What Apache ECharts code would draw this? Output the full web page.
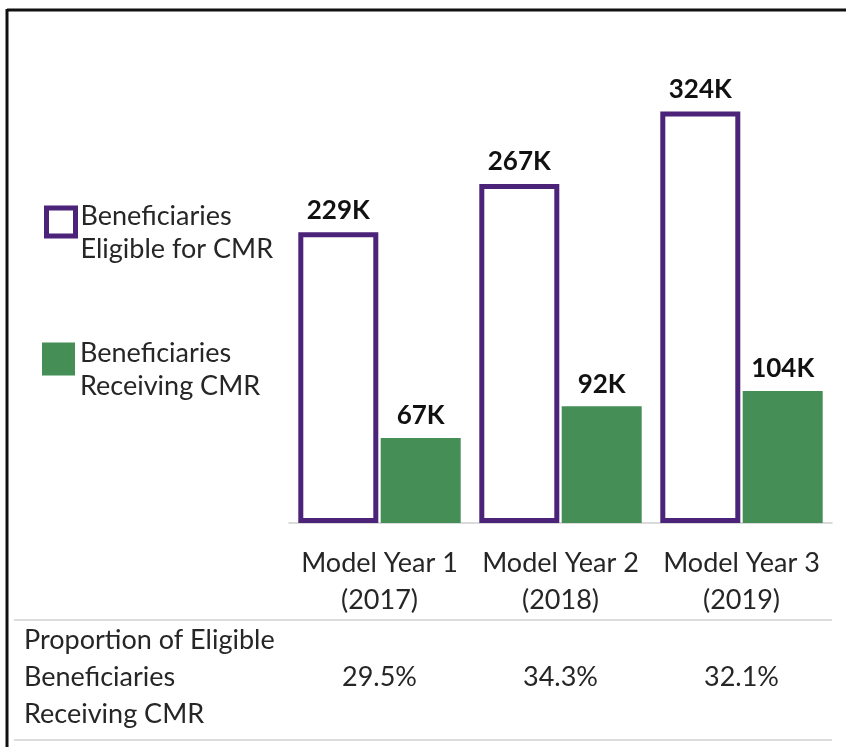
<!DOCTYPE html>
<html>
<head>
<meta charset="utf-8">
<script src="https://cdn.jsdelivr.net/npm/echarts@6/dist/echarts.min.js"></script>
<style>
  html, body { margin: 0; padding: 0; background: #fff; }
  #chart { width: 846px; height: 747px; }
</style>
</head>
<body>
<div id="chart"></div>
<script>
// CMR reach by model year
const categories = ['Model Year 1\n(2017)', 'Model Year 2\n(2018)', 'Model Year 3\n(2019)'];
const eligible = [229, 267, 324];      // thousands of beneficiaries
const receiving = [67, 92, 104];      // thousands of beneficiaries
const proportions = ['29.5%', '34.3%', '32.1%'];
const seriesNames = ['Beneficiaries\nEligible for CMR', 'Beneficiaries\nReceiving CMR'];
const rowLabel = 'Proportion of Eligible\nBeneficiaries\nReceiving CMR';

const PURPLE = '#4b2379';
const GREEN = '#458f56';
const TEXT = '#262626';
const FONT = 'Lato';
const TEXT_SIZE = 27;

const chart = echarts.init(document.getElementById('chart'));

// Legend labels: a short spacer line on top pushes the two text lines down
// so the icon sits level with the first line.
const legendText = {
  fontFamily: FONT,
  fontSize: TEXT_SIZE,
  color: TEXT,
  rich: {
    sp: { fontSize: 2, lineHeight: 21 },
    t: { fontFamily: FONT, fontSize: TEXT_SIZE, lineHeight: 33, color: TEXT }
  }
};
const legendFormatter = name => '{sp| }\n' + name.split('\n').map(s => '{t|' + s + '}').join('\n');

chart.setOption({
  animation: false,
  grid: { left: 289, right: 14, top: 15, bottom: 224, containLabel: false },
  legend: [
    {
      data: [{ name: seriesNames[0], itemStyle: { color: '#fff', borderColor: PURPLE, borderWidth: 5 } }],
      left: 44, top: 188, padding: 0, orient: 'vertical',
      icon: 'rect', itemWidth: 29, itemHeight: 28,
      selectedMode: false, textStyle: legendText, formatter: legendFormatter
    },
    {
      data: [{ name: seriesNames[1], itemStyle: { color: GREEN, borderWidth: 0 } }],
      left: 42, top: 325, padding: 0, orient: 'vertical',
      icon: 'rect', itemWidth: 33, itemHeight: 33,
      selectedMode: false, textStyle: legendText, formatter: legendFormatter
    }
  ],
  xAxis: [
    {
      type: 'category',
      data: categories,
      position: 'bottom',
      axisLine: { show: true, lineStyle: { color: '#d0d0d0', width: 1.5 } },
      axisTick: { show: false },
      axisLabel: { interval: 0, fontFamily: FONT, fontSize: TEXT_SIZE, lineHeight: 37, color: TEXT, margin: 22 }
    },
    {
      type: 'category',
      data: proportions,
      position: 'bottom',
      offset: 0,
      axisLine: { show: false },
      axisTick: { show: false },
      axisLabel: { interval: 0, fontFamily: FONT, fontSize: TEXT_SIZE, lineHeight: 24, color: TEXT, margin: 142 }
    }
  ],
  yAxis: {
    type: 'value', min: 0, max: 400, show: false,
    splitLine: { show: false }
  },
  series: [
    {
      name: seriesNames[0],
      type: 'bar',
      data: eligible,
      barWidth: 80,
      barGap: '3%',
      itemStyle: { color: '#fff', borderColor: PURPLE, borderWidth: 5 },
      label: {
        show: true, position: 'top', distance: 9,
        formatter: p => p.value + 'K',
        fontFamily: FONT, fontSize: 26, fontWeight: 'bold', color: '#111'
      }
    },
    {
      name: seriesNames[1],
      type: 'bar',
      data: receiving,
      barWidth: 80,
      itemStyle: { color: GREEN },
      label: {
        show: true, position: 'top', distance: 9,
        formatter: p => p.value + 'K',
        fontFamily: FONT, fontSize: 26, fontWeight: 'bold', color: '#111'
      }
    }
  ],
  graphic: [
    // outer frame (top and left edges)
    { type: 'line', shape: { x1: 7, y1: 10, x2: 846, y2: 10 }, style: { stroke: '#111', lineWidth: 3 } },
    { type: 'line', shape: { x1: 7, y1: 9, x2: 7, y2: 747 }, style: { stroke: '#111', lineWidth: 3 } },
    // table rules
    { type: 'line', shape: { x1: 14, y1: 620, x2: 832, y2: 620 }, style: { stroke: '#d0d0d0', lineWidth: 1.5 } },
    { type: 'line', shape: { x1: 14, y1: 740, x2: 832, y2: 740 }, style: { stroke: '#d0d0d0', lineWidth: 1.5 } },
    {
      type: 'text', left: 24, top: 622,
      style: { text: rowLabel, fontFamily: FONT, fontSize: TEXT_SIZE, lineHeight: 37, fill: TEXT }
    }
  ]
});
</script>
</body>
</html>
